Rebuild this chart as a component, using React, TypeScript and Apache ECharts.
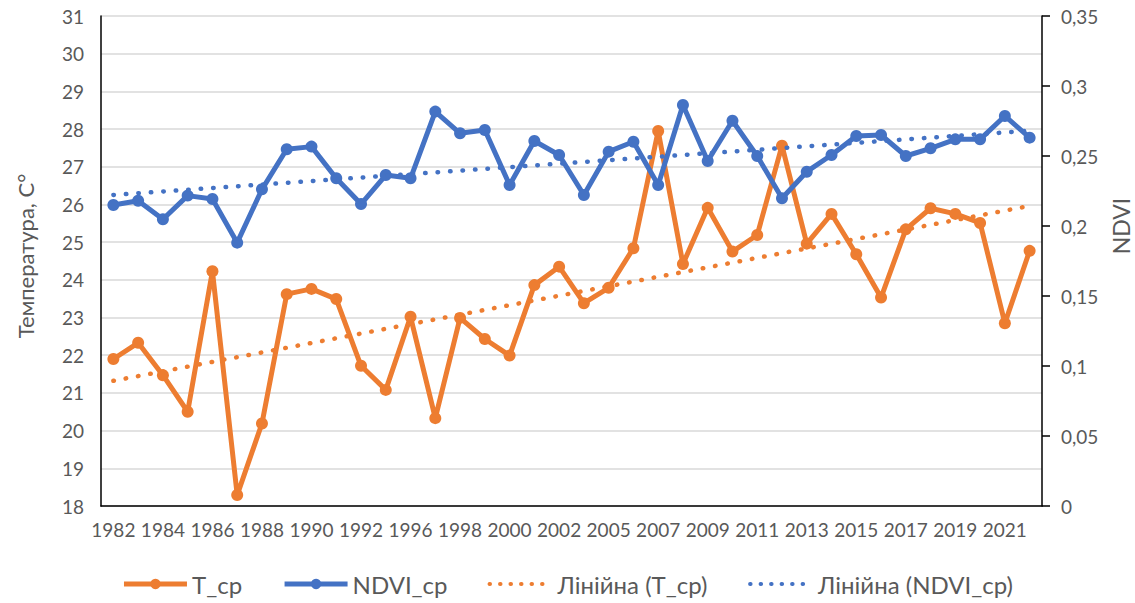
import React, { useEffect, useRef } from "react";
import * as echarts from "echarts";

const years: string[] = [
  "1982", "1983", "1984", "1985", "1986", "1987", "1988", "1989", "1990", "1991",
  "1992", "1994", "1996", "1997", "1998", "1999", "2000", "2001", "2002", "2003",
  "2005", "2006", "2007", "2008", "2009", "2010", "2011", "2012", "2013", "2014",
  "2015", "2016", "2017", "2018", "2019", "2020", "2021", "2022",
];

const tempValues: number[] = [
  21.9, 22.33, 21.47, 20.5, 24.23, 18.29, 20.19, 23.62, 23.76, 23.49,
  21.72, 21.08, 23.02, 20.33, 22.99, 22.43, 21.99, 23.86, 24.35, 23.38,
  23.79, 24.84, 27.95, 24.42, 25.91, 24.75, 25.19, 27.56, 24.96, 25.75,
  24.68, 23.53, 25.34, 25.9, 25.75, 25.51, 22.85, 24.77,
];

const ndviValues: number[] = [
  0.215, 0.218, 0.2048, 0.2217, 0.2193, 0.1881, 0.2262, 0.2548, 0.2567, 0.2341,
  0.2157, 0.2364, 0.2341, 0.2817, 0.2662, 0.2686, 0.2293, 0.2607, 0.2507, 0.2221,
  0.2531, 0.2602, 0.2293, 0.2864, 0.2464, 0.2752, 0.25, 0.2198, 0.2388, 0.2507,
  0.2643, 0.265, 0.25, 0.2555, 0.2619, 0.2619, 0.2786, 0.2631,
];

const seriesNames = ["T_ср", "NDVI_ср", "Лінійна (T_ср)", "Лінійна (NDVI_ср)"];
const tempTicks = { min: 18, max: 31, step: 1 };
const ndviTicks = { min: 0, max: 0.35, step: 0.05 };

// Least-squares linear trend (as a spreadsheet trendline computes it)
function linearTrend(vals: number[]): number[] {
  const n = vals.length;
  let sx = 0, sy = 0, sxx = 0, sxy = 0;
  vals.forEach((y, i) => {
    const x = i + 1;
    sx += x; sy += y; sxx += x * x; sxy += x * y;
  });
  const slope = (n * sxy - sx * sy) / (n * sxx - sx * sx);
  const intercept = (sy - slope * sx) / n;
  return vals.map((_, i) => +(intercept + slope * (i + 1)).toFixed(5));
}

const ORANGE = "#ED7D31";
const BLUE = "#4472C4";
const GRAY = "#595959";
const FONT = "Lato";

export default function App() {
  const ref = useRef<HTMLDivElement>(null);

  useEffect(() => {
    document.body.style.margin = "0";
    if (!ref.current) return;
    const chart = echarts.init(ref.current, undefined, { renderer: "svg" });
    const tTrend = linearTrend(tempValues);
    const nTrend = linearTrend(ndviValues);

    const dotted = [0.5, 12];

    chart.setOption({
      animation: false,
      backgroundColor: "#ffffff",
      textStyle: { fontFamily: FONT },
      grid: { left: 101, right: 93, top: 16, bottom: 97, containLabel: false },
      legend: {
        data: [
          { name: seriesNames[0], lineStyle: { width: 5 } },
          { name: seriesNames[1], lineStyle: { width: 5 } },
          { name: seriesNames[2], itemStyle: { opacity: 0, borderWidth: 0 }, lineStyle: { width: 4, type: [0.5, 10], cap: "round" } },
          { name: seriesNames[3], itemStyle: { opacity: 0, borderWidth: 0 }, lineStyle: { width: 4, type: [0.5, 10], cap: "round" } },
        ],
        top: 567,
        left: "center",
        itemWidth: 63,
        itemHeight: 13,
        itemGap: 40,
        textStyle: { color: GRAY, fontSize: 24, fontFamily: FONT },
      },
      graphic: [
        {
          type: "text",
          x: 25,
          y: 256,
          rotation: Math.PI / 2,
          style: {
            text: "Температура, С°",
            fill: GRAY,
            font: `22px ${FONT}`,
            align: "center",
            verticalAlign: "middle",
            textAlign: "center",
            textVerticalAlign: "middle",
          },
        },
        {
          type: "text",
          x: 1121,
          y: 226,
          rotation: Math.PI / 2,
          style: {
            text: "NDVI",
            fill: GRAY,
            font: `23px ${FONT}`,
            align: "center",
            verticalAlign: "middle",
            textAlign: "center",
            textVerticalAlign: "middle",
          },
        },
      ],
      xAxis: {
        type: "category",
        data: years,
        boundaryGap: true,
        axisLine: { show: true, lineStyle: { color: "#000", width: 1.5 } },
        axisTick: { show: false },
        axisLabel: { interval: 1, color: GRAY, fontSize: 19, fontFamily: FONT, margin: 14 },
        splitLine: { show: false },
      },
      yAxis: [
        {
          type: "value",
          min: tempTicks.min,
          max: tempTicks.max,
          interval: tempTicks.step,
          axisLine: { show: true, lineStyle: { color: "#000", width: 1.5 } },
          axisTick: { show: false },
          axisLabel: { color: GRAY, fontSize: 19, fontFamily: FONT, margin: 17 },
          splitLine: { show: true, lineStyle: { color: "#D9D9D9", width: 1.5 } },
        },
        {
          type: "value",
          position: "right",
          min: ndviTicks.min,
          max: ndviTicks.max,
          interval: ndviTicks.step,
          axisLine: { show: true, lineStyle: { color: "#000", width: 1.5 } },
          axisTick: { show: true, inside: false, length: 8, lineStyle: { color: "#000", width: 1.5 } },
          axisLabel: {
            color: GRAY,
            fontSize: 19,
            fontFamily: FONT,
            margin: 19,
            formatter: (v: number) => String(+v.toFixed(2)).replace(".", ","),
          },
          splitLine: { show: false },
        },
      ],
      series: [
        {
          name: seriesNames[0],
          type: "line",
          yAxisIndex: 0,
          data: tempValues,
          color: ORANGE,
          symbol: "circle",
          symbolSize: 12,
          lineStyle: { color: ORANGE, width: 5 },
          itemStyle: { color: ORANGE },
          z: 2,
        },
        {
          name: seriesNames[1],
          type: "line",
          yAxisIndex: 1,
          data: ndviValues,
          color: BLUE,
          symbol: "circle",
          symbolSize: 12,
          lineStyle: { color: BLUE, width: 5 },
          itemStyle: { color: BLUE },
          z: 3,
        },
        {
          name: seriesNames[2],
          type: "line",
          yAxisIndex: 0,
          data: tTrend,
          color: ORANGE,
          symbol: "none",
          lineStyle: { color: ORANGE, width: 4.5, type: dotted, cap: "round" },
          itemStyle: { color: ORANGE },
          z: 4,
        },
        {
          name: seriesNames[3],
          type: "line",
          yAxisIndex: 1,
          data: nTrend,
          color: BLUE,
          symbol: "none",
          lineStyle: { color: BLUE, width: 4.5, type: dotted, cap: "round" },
          itemStyle: { color: BLUE },
          z: 5,
        },
      ],
    });

    return () => chart.dispose();
  }, []);

  return <div ref={ref} style={{ width: 1135, height: 603 }} />;
}
